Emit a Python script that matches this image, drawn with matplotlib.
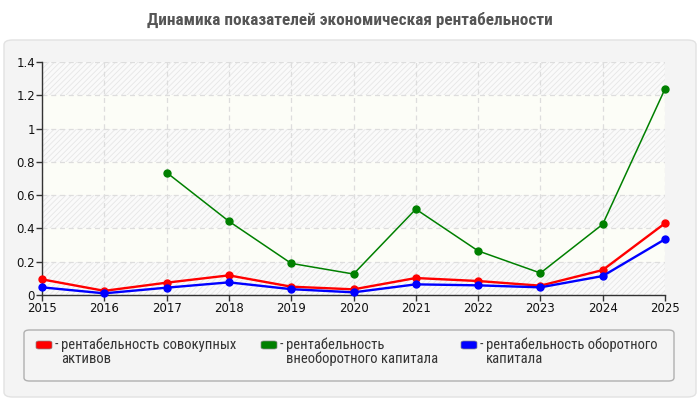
import numpy as np
import matplotlib
matplotlib.use("Agg")
import matplotlib.pyplot as plt
from matplotlib.patches import FancyBboxPatch
from matplotlib import font_manager


TITLE = "Динамика показателей экономическая рентабельности"
YEARS = [2015, 2016, 2017, 2018, 2019, 2020, 2021, 2022, 2023, 2024, 2025]

# рентабельность совокупных активов
TOTAL_ASSETS = [0.094, 0.025, 0.074, 0.118, 0.050, 0.034, 0.102, 0.084, 0.056, 0.150, 0.431]
# рентабельность внеоборотного капитала (нет данных за 2015-2016)
NONCURRENT = [None, None, 0.736, 0.443, 0.190, 0.126, 0.516, 0.265, 0.132, 0.425, 1.238]
# рентабельность оборотного капитала
CURRENT = [0.046, 0.010, 0.044, 0.076, 0.035, 0.016, 0.064, 0.058, 0.046, 0.114, 0.335]

LABELS = [
    "рентабельность совокупных\nактивов",
    "рентабельность\nвнеоборотного капитала",
    "рентабельность оборотного\nкапитала",
]
COLORS = ["#ff0000", "#008000", "#0000ff"]
Y_TICKS = [0, 0.2, 0.4, 0.6, 0.8, 1.0, 1.2, 1.4]
Y_TICK_LABELS = ["0", "0.2", "0.4", "0.6", "0.8", "1", "1.2", "1.4"]


def pick_font(names):
    have = {f.name for f in font_manager.fontManager.ttflist}
    for n in names:
        if n in have:
            return n
    return "DejaVu Sans"


NARROW = pick_font(["Liberation Sans Narrow", "Roboto Condensed", "Liberation Sans"])

W, H = 700, 400
fig = plt.figure(figsize=(7, 4), dpi=100)
fig.patch.set_facecolor("white")

# outer grey panel
fig.patches.append(FancyBboxPatch(
    (4 / W, 3 / H), 692 / W, 357 / H,
    boxstyle="round,pad=0,rounding_size=0.012",
    transform=fig.transFigure, facecolor="#f4f4f4", edgecolor="#e2e2e2",
    linewidth=1, zorder=-5))

fig.text(0.5, 1 - 20 / H, TITLE, ha="center", va="center", fontsize=12.3,
         fontweight="bold", color="#555555", family=[NARROW, "DejaVu Sans"])

ax = fig.add_axes([42 / W, 1 - 295 / H, 623 / W, 233 / H])
ax.set_zorder(2)
ax.set_facecolor("#fcfdf7")
plt.rcParams["hatch.linewidth"] = 0.6
for lo in [0.0, 0.4, 0.8, 1.2]:
    ax.axhspan(lo, lo + 0.2, facecolor="#fafafa", edgecolor="#e6e6e6",
               hatch="//////", linewidth=0, zorder=0)

ax.set_xlim(YEARS[0], YEARS[-1])
ax.set_ylim(0, 1.4)
ax.set_xticks(YEARS)
ax.set_yticks(Y_TICKS)
ax.set_yticklabels(Y_TICK_LABELS)
ax.grid(True, color="#dddddd", linestyle=(0, (4, 3)), linewidth=0.9, zorder=1)
ax.tick_params(axis="both", direction="out", length=4, width=1, color="#333333",
               labelsize=8.5, labelcolor="#111111", pad=1)
for side in ["top", "right"]:
    ax.spines[side].set_visible(False)
for side in ["left", "bottom"]:
    ax.spines[side].set_color("#333333")
    ax.spines[side].set_linewidth(1)

years = np.array(YEARS)
series = [TOTAL_ASSETS, NONCURRENT, CURRENT]
widths = [1.7, 1.1, 1.7]
for idx in [1, 2, 0]:
    vals = np.array([np.nan if v is None else v for v in series[idx]], dtype=float)
    ax.plot(years, vals, color=COLORS[idx], linewidth=widths[idx], marker="o",
            markersize=5, zorder=3 + idx, clip_on=False)

# legend box
fig.patches.append(FancyBboxPatch(
    (24 / W, 1 - 381 / H), 650 / W, 51 / H,
    boxstyle="round,pad=0,rounding_size=0.008",
    transform=fig.transFigure, facecolor="#f4f4f4", edgecolor="#b0b0b0",
    linewidth=1, zorder=1))

sw_x = [36, 261, 461]
for i, lab in enumerate(LABELS):
    x0 = sw_x[i]
    fig.patches.append(FancyBboxPatch(
        (x0 / W, 1 - 349 / H), 16 / W, 8 / H,
        boxstyle="round,pad=0,rounding_size=0.004",
        transform=fig.transFigure, facecolor=COLORS[i], edgecolor="#888888",
        linewidth=0.5, zorder=2))
    fig.text((x0 + 19) / W, 1 - 345 / H, "-", ha="left", va="center",
             fontsize=10, color="#333333", family=[NARROW, "DejaVu Sans"])
    fig.text((x0 + 25) / W, 1 - 338 / H, lab, ha="left", va="top",
             fontsize=10.5, color="#333333", family=[NARROW, "DejaVu Sans"],
             linespacing=0.95)

fig.savefig("out.png", dpi=100)
